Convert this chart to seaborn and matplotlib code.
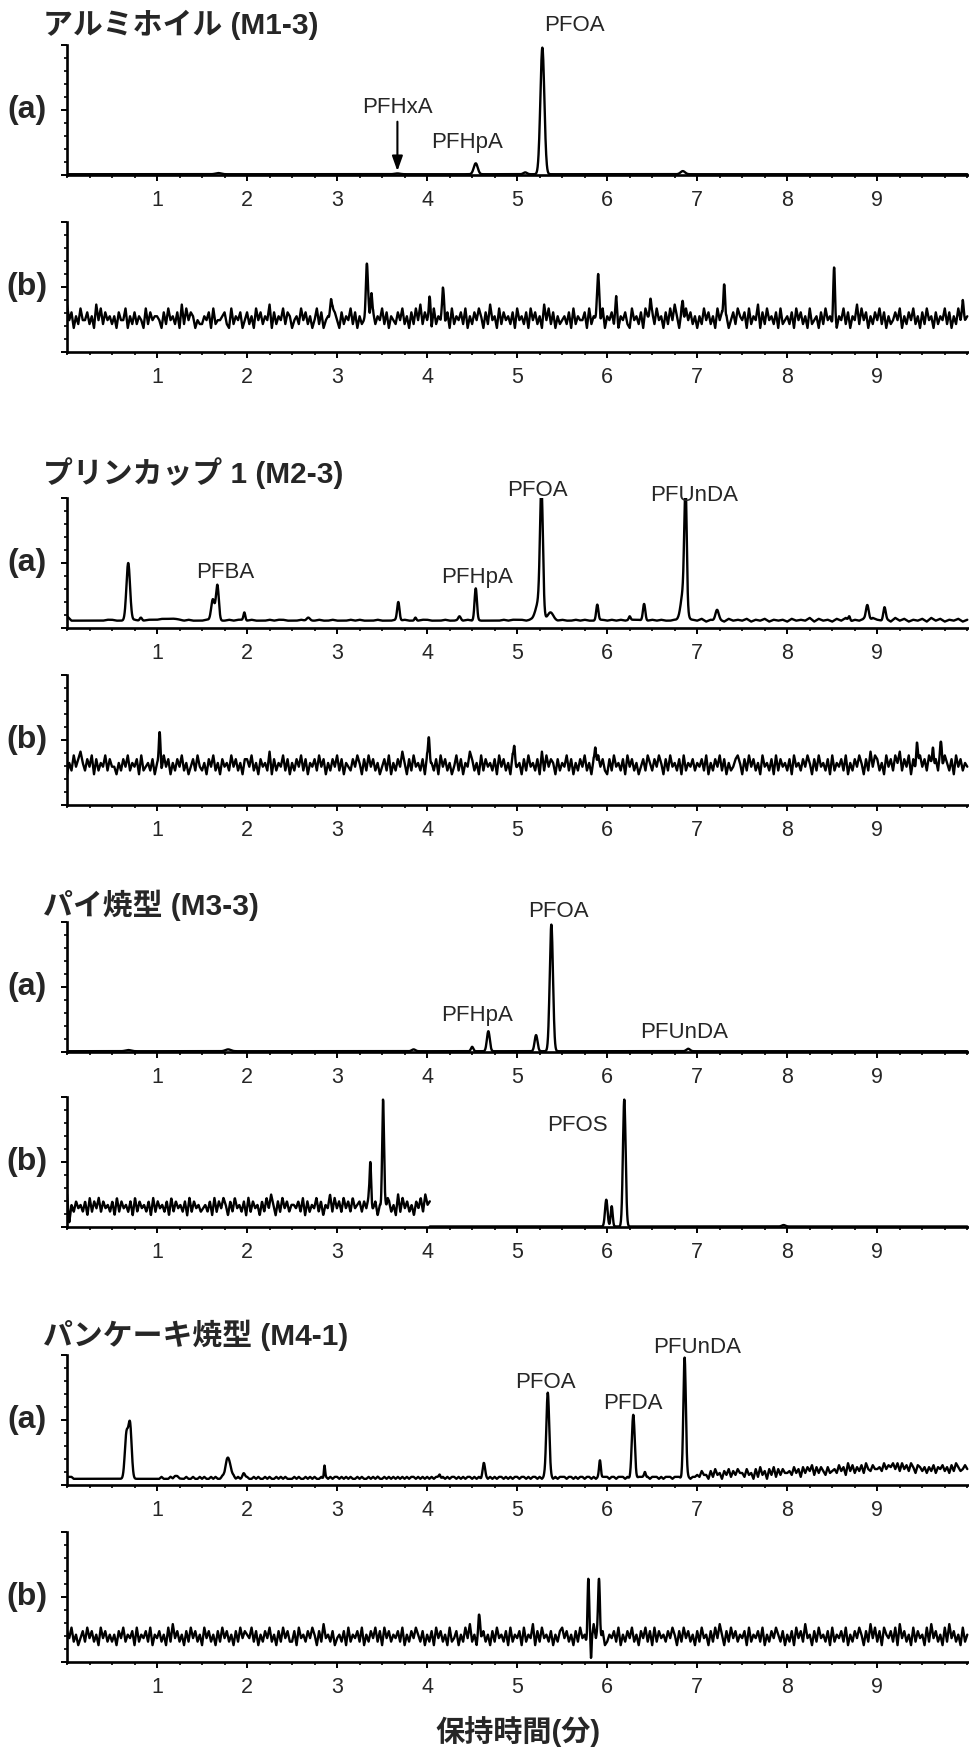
import numpy as np
import pandas as pd
import matplotlib
matplotlib.use("Agg")
import matplotlib.pyplot as plt
import seaborn as sns
from matplotlib.ticker import MultipleLocator

# ---------------------------------------------------------------- data
# Sample titles and panel tags
SAMPLE_TITLES = ["アルミホイル (M1-3)", "プリンカップ 1 (M2-3)",
                 "パイ焼型 (M3-3)", "パンケーキ焼型 (M4-1)"]
PANEL_TAGS = ["(a)", "(b)"]
X_TICKS = [1, 2, 3, 4, 5, 6, 7, 8, 9]
X_LABEL = "保持時間(分)"

# Peaks: (retention time [min], apex height [% of full scale], sigma [min])
A1_PEAKS = [(1.68, 1.5, 0.03), (3.67, 1.2, 0.03), (4.54, 9, 0.022),
            (5.09, 2, 0.02), (5.28, 98, 0.022), (6.84, 3, 0.025)]
B1_PEAKS = [(2.93, 40, 0.010), (3.33, 68, 0.011), (3.38, 45, 0.009),
            (4.03, 42, 0.009), (4.18, 48, 0.011), (5.90, 60, 0.013),
            (6.10, 43, 0.009), (6.48, 41, 0.009), (6.84, 39, 0.009),
            (7.30, 52, 0.009), (8.52, 65, 0.009), (9.95, 40, 0.009)]
A2_PEAKS = [(0.68, 50, 0.020), (0.82, 8, 0.012), (1.08, 7, 0.04),
            (1.20, 7, 0.03), (1.62, 22, 0.018), (1.67, 33, 0.016),
            (1.97, 12, 0.010), (2.68, 8, 0.018), (3.68, 20, 0.013),
            (3.87, 8, 0.010), (4.36, 9, 0.013), (4.54, 30.5, 0.013),
            (5.24, 20, 0.035), (5.27, 100, 0.016), (5.37, 12, 0.03),
            (5.89, 18, 0.012), (6.25, 9, 0.010), (6.41, 18.5, 0.013),
            (6.85, 30, 0.03), (6.87, 94.6, 0.013), (7.22, 14, 0.018),
            (8.69, 9, 0.010), (8.89, 17.7, 0.016), (9.08, 16, 0.013)]
B2_PEAKS = [(1.03, 56, 0.009), (4.02, 52, 0.009), (4.97, 45, 0.009),
            (5.87, 44, 0.009), (9.44, 48, 0.009), (9.62, 44, 0.009),
            (9.71, 48, 0.009)]
A3_PEAKS = [(0.68, 1.5, 0.03), (1.79, 2, 0.03), (3.85, 2, 0.02),
            (4.50, 4, 0.013), (4.68, 16, 0.016), (5.21, 13, 0.016),
            (5.38, 98, 0.018), (6.90, 2.5, 0.02)]
B3_PEAKS = [(3.37, 50, 0.009), (3.51, 98, 0.010), (3.56, 22, 0.008),
            (5.99, 21, 0.014), (6.05, 16, 0.011), (6.19, 98, 0.015),
            (7.96, 1.5, 0.02)]
A4_PEAKS = [(0.66, 38, 0.018), (0.70, 46, 0.018), (1.21, 7, 0.03),
            (1.79, 21, 0.028), (1.96, 9, 0.013), (2.37, 6, 0.02),
            (2.86, 15, 0.007), (3.46, 6, 0.009), (4.14, 8, 0.009),
            (4.63, 17, 0.013), (5.34, 71, 0.016), (5.92, 19, 0.010),
            (6.29, 54, 0.016), (6.42, 10, 0.010), (6.86, 98, 0.014)]
B4_PEAKS = [(4.58, 36, 0.010), (5.79, 64, 0.009), (5.82, 3, 0.005),
            (5.91, 64, 0.010)]

# Baseline noise digits (level = base + step * (digit - 4.5)),
# spread evenly over the time span of each trace
B1_NOISE = ("95736485574639584756" "46375583647465384756" "65374856473948576354"
            "46573845567438465735" "74638574659374658476" "35648574635847356487"
            "53746584736455837465" "84736547584637485947" "57384659473846574836"
            "47586374956384756473" "85647385746395847364" "56473846557384657483"
            "65748365743856473865" "74856374859637485746" "36485746385746357486"
            "57384659374856473845" "64738574638456374856" "47365847365948573647"
            "58473645758364758463" "74856374658473648575" "6")
A2_NOISE = ("94444444455444454455" "56665545444554445455" "45444545544454445445"
            "44454544454445454445" "54445445454544444545" "55454445545445454455"
            "45454555445454454545" "46354536454635463545" "36454736453647354637"
            "54637463546374635463" "5")
B2_NOISE = ("36485796475837465847" "55364758465738456473" "67485736475846357485"
            "46375846375648574637" "75846375649374658473" "64758473657485736475"
            "84736547586374857463" "57483647596374856473" "85647385746358473659"
            "74638475647385746384" "56374856473948576374" "65847364758463748574"
            "37485647385746357486" "47586374856473846574" "65748364758473645786"
            "37485746385647384756" "47385647586374856473" "84657483647586374958"
            "74638574869475837468" "57486374958647385746" "5")
B3_NOISE = ("91647564738475847564" "73847564738475647384" "75647384756473847564"
            "56473847586374856473" "84756374859637485746" "65748374658473659485"
            "74857485674758457364" "85746394857463758496" "7")
A4_NOISE = ("22211111111111111111" "11111111111111111111" "11211121221112112112"
            "12112121121211212112" "21121211212112121211" "12121121212112121212"
            "21212121121211212121" "12121212121212212121" "21212212121221212122"
            "12121221212122121212" "21221212212121221212" "22122121221221212122"
            "21221222121221222121" "22212122212221222122" "32533152634153625364"
            "42634162735163726364" "45374627475837475374" "56485739584758496586"
            "67596879695968597487" "57475847685748597568" "6")
B4_NOISE = ("75846357485746385746" "46375846573846574836" "57463849574637485746"
            "38574637485746374857" "65847364758463748574" "47385647586374956473"
            "56473846574836475847" "38574657483647586473" "64738574638457364859"
            "46385746374856473846" "57384659374856473647" "85746374856374958473"
            "46574836475846375847" "38475647586374857463" "74856374859637485746"
            "57384657483647586473" "64738574956374856473" "84657483647586374958"
            "47386574839574638475" "63849574638495746384" "6")

# Peak labels: (text, time, height)
A1_LABELS = [("PFHxA", 3.67, 52), ("PFHpA", 4.44, 25), ("PFOA", 5.64, 115)]
A2_LABELS = [("PFBA", 1.76, 43), ("PFHpA", 4.56, 39), ("PFOA", 5.22, 106),
             ("PFUnDA", 6.97, 102)]
A3_LABELS = [("PFHpA", 4.55, 28), ("PFOA", 5.46, 108), ("PFUnDA", 6.86, 15)]
B3_LABELS = [("PFOS", 5.67, 78)]
A4_LABELS = [("PFOA", 5.31, 79), ("PFDA", 6.28, 63), ("PFUnDA", 7.0, 106)]


# ---------------------------------------------------------------- traces
def noise_levels(digits, base, step, t0, t1):
    d = np.array([int(c) for c in digits], dtype=float)
    return np.linspace(t0, t1, len(d)), base + step * (d - 4.5)


def segment(t0, t1, nt, nl, peaks, seg_id):
    tf = np.arange(t0, t1 + 1e-9, 0.0025)
    y = np.interp(tf, nt, nl)
    for tp, apex, sig in peaks:
        if t0 <= tp <= t1:
            amp = apex - np.interp(tp, nt, nl)
            y = y + amp * np.exp(-0.5 * ((tf - tp) / sig) ** 2)
    return pd.DataFrame({"t": tf, "v": y, "seg": seg_id})


def flat(level):
    return np.array([0.0, 10.0]), np.array([level, level])


traces = []
traces.append(segment(0, 10, *flat(0.6), A1_PEAKS, 0))
traces.append(segment(0, 10, *noise_levels(B1_NOISE, 23, 3.0, 0, 10), B1_PEAKS, 0))
traces.append(segment(0, 10, *noise_levels(A2_NOISE, 6, 0.7, 0, 10), A2_PEAKS, 0))
traces.append(segment(0, 10, *noise_levels(B2_NOISE, 28, 2.9, 0, 10), B2_PEAKS, 0))
traces.append(segment(0, 10, *flat(0.6), A3_PEAKS, 0))
traces.append(pd.concat([
    segment(0, 4.03, *noise_levels(B3_NOISE, 13, 2.7, 0, 4.03), B3_PEAKS, 0),
    segment(4.03, 10, *flat(0.4), B3_PEAKS, 1)]))
traces.append(segment(0, 10, *noise_levels(A4_NOISE, 10, 1.5, 0, 10), A4_PEAKS, 0))
traces.append(segment(0, 10, *noise_levels(B4_NOISE, 17, 2.7, 0, 10), B4_PEAKS, 0))

labels = [A1_LABELS, [], A2_LABELS, [], A3_LABELS, B3_LABELS, A4_LABELS, []]

# ---------------------------------------------------------------- figure
sns.set_style("ticks")
plt.rcParams["font.family"] = ["Liberation Sans", "Noto Sans CJK JP"]

W, H = 970, 1747
fig = plt.figure(figsize=(W / 100, H / 100), dpi=100)

panel_mid = [110, 287, 563, 740, 987, 1162, 1420, 1597]
panel_h = 130
left_px = 67
title_y = [25, 473, 905, 1335]

axes = []
for i, mid in enumerate(panel_mid):
    top = mid - panel_h / 2
    ax = fig.add_axes([left_px / W, 1 - (top + panel_h) / H,
                       (W - left_px) / W, panel_h / H])
    sns.lineplot(data=traces[i], x="t", y="v", units="seg", estimator=None,
                 sort=False, color="black", lw=1.7, ax=ax)
    ax.set_xlim(0, 10.03)
    ax.set_ylim(0, 100)
    ax.set_xlabel("")
    ax.set_ylabel("")
    ax.set_xticks(X_TICKS)
    ax.set_xticklabels([str(v) for v in X_TICKS], fontsize=15.5)
    ax.xaxis.set_minor_locator(MultipleLocator(0.25))
    ax.set_yticks([0, 50, 100])
    ax.set_yticklabels([])
    ax.yaxis.set_minor_locator(MultipleLocator(10))
    ax.tick_params(which="major", direction="out", length=4.5, width=1.4,
                   pad=6, color="black")
    ax.tick_params(which="minor", direction="out", length=2.2, width=1.2,
                   color="black")
    for s in ("top", "right"):
        ax.spines[s].set_visible(False)
    for s in ("left", "bottom"):
        ax.spines[s].set_linewidth(1.9)
        ax.spines[s].set_color("black")
    for name, tx, ty in labels[i]:
        ax.text(tx, ty, name, ha="center", va="center", fontsize=16,
                clip_on=False)
    fig.text(27 / W, 1 - mid / H, PANEL_TAGS[i % 2], ha="center", va="center",
             fontsize=23, fontweight="bold")
    axes.append(ax)

# arrow marking the small PFHxA peak
axes[0].annotate("", xy=(3.67, 3), xytext=(3.67, 41),
                 arrowprops=dict(arrowstyle="-|>,head_width=0.32,head_length=0.9",
                                 lw=1.5, color="black", shrinkA=0, shrinkB=0))

for ty, title in zip(title_y, SAMPLE_TITLES):
    fig.text(43 / W, 1 - ty / H, title, ha="left", va="center",
             fontsize=21.5, fontweight="bold")

fig.text(518 / W, 1 - 1731 / H, X_LABEL, ha="center", va="center",
         fontsize=21, fontweight="bold")

fig.savefig("out.png", dpi=100)
